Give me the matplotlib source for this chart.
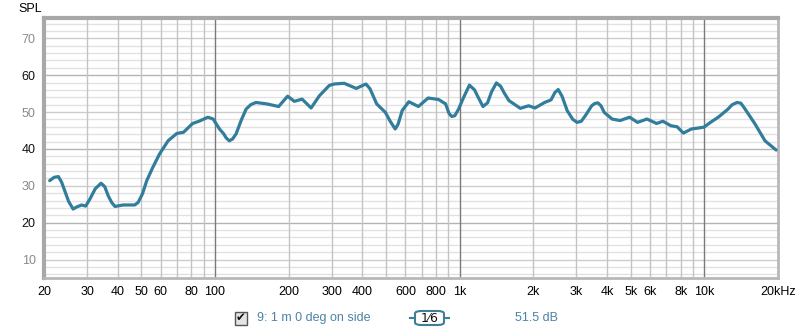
import numpy as np
import matplotlib
matplotlib.use('Agg')
from matplotlib import pyplot as plt
from matplotlib.patches import FancyBboxPatch, Rectangle
from matplotlib.lines import Line2D

freq = [21.1, 22.0, 22.9, 23.6, 24.3, 25.2, 26.3, 27.3, 28.5, 29.6, 30.8, 32.4,
        34.2, 35.4, 36.6, 37.8, 39.0, 42.1, 47.0, 48.5, 50.5, 52.6, 55.5, 59.3,
        64.3, 69.8, 74.3, 81.0, 86.0, 93.5, 98.3, 104.3, 108.5, 111, 114.4, 118,
        122, 128, 134, 140, 147, 163, 182, 198, 211, 227, 247, 267, 293, 307,
        337, 378, 395, 414, 430, 458, 497, 520, 545, 560, 582, 620, 678, 743,
        820, 876, 905, 928, 955, 990, 1030, 1096, 1150, 1190, 1245, 1300, 1350,
        1413, 1470, 1520, 1590, 1770, 1913, 2032, 2225, 2363, 2450, 2527, 2620,
        2750, 2900, 3020, 3140, 3262, 3464, 3560, 3670, 3780, 3898, 4197, 4523,
        4950, 5330, 5830, 6380, 6770, 7290, 7740, 8210, 8850, 9520, 9960, 10700,
        11400, 12400, 13000, 13600, 14100, 14500, 16100, 17700, 19650]
spl = [31.4, 32.3, 32.5, 31.0, 28.7, 25.8, 23.7, 24.3, 24.8, 24.5, 26.4, 29.2,
       30.7, 29.8, 27.3, 25.5, 24.4, 24.8, 24.8, 25.5, 27.8, 31.4, 34.8, 38.6,
       42.2, 44.2, 44.5, 46.9, 47.5, 48.6, 48.1, 45.4, 44.1, 43.0, 42.2, 42.7,
       44.1, 47.8, 50.8, 52.0, 52.6, 52.2, 51.5, 54.3, 52.9, 53.5, 51.1, 54.4,
       57.2, 57.6, 57.8, 56.4, 57.0, 57.6, 56.3, 52.2, 49.9, 47.5, 45.4, 46.7,
       50.4, 52.8, 51.5, 53.8, 53.4, 52.2, 49.6, 48.8, 49.0, 50.8, 53.5, 57.3,
       56.0, 54.0, 51.5, 52.5, 55.5, 57.9, 57.0, 55.2, 53.1, 51.0, 51.7, 51.1,
       52.6, 53.3, 55.3, 56.1, 54.3, 50.4, 48.0, 47.2, 47.5, 49.0, 51.7, 52.3,
       52.5, 51.7, 49.9, 48.1, 47.7, 48.6, 47.2, 48.1, 46.9, 47.5, 46.3, 46.0,
       44.3, 45.4, 45.7, 45.9, 47.4, 48.6, 50.6, 52.0, 52.6, 52.4, 51.3, 46.8,
       42.2, 39.7]

xticks = [20, 30, 40, 50, 60, 80, 100, 200, 300, 400, 600, 800, 1000,
          2000, 3000, 4000, 5000, 6000, 8000, 10000, 20000]
xlabels = ['20', '30', '40', '50', '60', '80', '100', '200', '300', '400',
           '600', '800', '1k', '2k', '3k', '4k', '5k', '6k', '8k', '10k', '20kHz']
yticks = [10, 20, 30, 40, 50, 60, 70]

line_color = '#317d9b'
text_blue = '#4b84a6'

plt.rcParams['font.family'] = ['Liberation Sans', 'DejaVu Sans']

fig = plt.figure(figsize=(8, 3.31), dpi=100, facecolor='white')
ax = fig.add_axes([44 / 800, 1 - 278 / 331, 734 / 800, 260 / 331])
ax.set_xscale('log')
ax.set_xlim(20, 20000)
ax.set_ylim(5, 75.5)

# grid
for y in range(6, 76, 2):
    if y % 20 == 0:
        c = '#b4b4b4'
    elif y % 10 == 0:
        c = '#cdcdcd'
    else:
        c = '#e2e2e2'
    ax.axhline(y, color=c, lw=1, zorder=1)
for dec in [10, 100, 1000, 10000]:
    for m in range(2, 10):
        f = dec * m
        if 20 < f < 20000:
            ax.axvline(f, color='#c4c4c4', lw=1, zorder=1)
for f in [100, 1000, 10000]:
    ax.axvline(f, color='#7a7a7a', lw=1, zorder=2)

ax.plot(freq, spl, color=line_color, lw=2.3, zorder=3,
        solid_capstyle='round', solid_joinstyle='round')

ax.set_xticks(xticks)
ax.set_xticklabels(xlabels)
ax.xaxis.set_minor_locator(matplotlib.ticker.NullLocator())
ax.set_yticks(yticks)
ax.tick_params(length=0, labelsize=9, pad=6)
for lab, v in zip(ax.get_yticklabels(), yticks):
    lab.set_color('#111111' if v % 20 == 0 else '#8a8a8a')

for side in ['left', 'top']:
    ax.spines[side].set_color('#a8a8a8')
    ax.spines[side].set_linewidth(3)
for side in ['right', 'bottom']:
    ax.spines[side].set_color('#b8b8b8')
    ax.spines[side].set_linewidth(2)

fig.text(18 / 800, 1 - 9 / 331, 'SPL', fontsize=9, va='center', ha='left')

# legend strip below the chart
ly = 1 - 318 / 331
fig.patches.append(Rectangle((235 / 800, ly - 6.5 / 331), 12 / 800, 13 / 331,
                             transform=fig.transFigure, facecolor='#e4e4e4',
                             edgecolor='#555555', lw=1))
fig.text(241 / 800, ly, '\u2714', fontsize=8.5, ha='center', va='center', color='#111111',
         family=['DejaVu Sans'])
fig.text(257 / 800, ly, '9: 1 m 0 deg on side', fontsize=9, ha='left', va='center',
         color=text_blue)
fig.lines.append(Line2D([410 / 800, 449 / 800], [ly, ly], transform=fig.transFigure,
                        color='#3f7f95', lw=1.5))
fig.patches.append(FancyBboxPatch((415 / 800, ly - 7 / 331), 29 / 800, 14 / 331,
                                  boxstyle='round,pad=0,rounding_size=0.008',
                                  transform=fig.transFigure, facecolor='white',
                                  edgecolor='#3f7f95', lw=1.5, zorder=5))
fig.text(429.5 / 800, ly, '1⁄6', fontsize=9, ha='center', va='center', color='#111111',
         family=['DejaVu Sans'], zorder=6)
fig.text(515 / 800, ly, '51.5 dB', fontsize=9, ha='left', va='center', color=text_blue)

fig.savefig('out.png', dpi=100, facecolor='white')
